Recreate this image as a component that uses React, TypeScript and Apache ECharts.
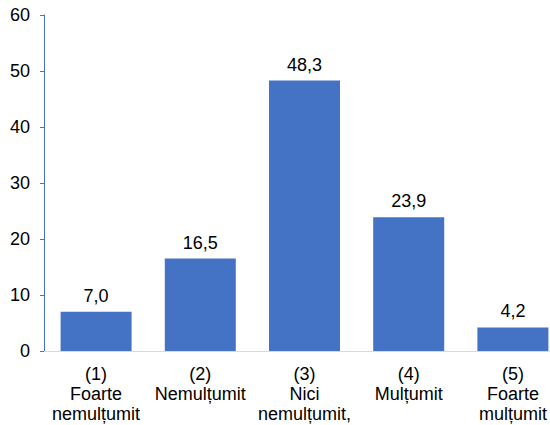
import React, { useEffect, useRef } from "react";
import * as echarts from "echarts";

const categories = [
  "(1)\nFoarte\nnemulțumit",
  "(2)\nNemulțumit",
  "(3)\nNici\nnemulțumit,",
  "(4)\nMulțumit",
  "(5)\nFoarte\nmulțumit",
];
const values = [7.0, 16.5, 48.3, 23.9, 4.2];

const FONT = "Liberation Sans, Arial, sans-serif";

export default function App() {
  const ref = useRef<HTMLDivElement>(null);
  useEffect(() => {
    document.body.style.margin = "0";
    const chart = echarts.init(ref.current!, null, { renderer: "svg" });
    chart.setOption({
      animation: false,
      backgroundColor: "#ffffff",
      textStyle: { fontFamily: FONT },
      grid: {
        left: 44,
        right: 0,
        top: 15,
        bottom: 74,
        containLabel: false,
        outerBoundsMode: "none",
      },
      xAxis: {
        type: "category",
        data: categories,
        axisLine: { show: true, lineStyle: { color: "#d9d9d9", width: 1 } },
        axisTick: { show: false },
        axisLabel: {
          color: "#000",
          fontSize: 18,
          lineHeight: 20,
          margin: 13,
          interval: 0,
          fontFamily: FONT,
        },
      },
      yAxis: {
        type: "value",
        min: 0,
        max: 60,
        interval: 10,
        splitLine: { show: false },
        axisLine: { show: true, lineStyle: { color: "#4472C4", width: 1 } },
        axisTick: { show: true, length: 4, lineStyle: { color: "#4472C4" } },
        axisLabel: {
          color: "#000",
          fontSize: 18,
          margin: 14,
          fontFamily: FONT,
        },
      },
      series: [
        {
          type: "bar",
          data: values,
          barWidth: 71,
          itemStyle: { color: "#4472C4" },
          label: {
            show: true,
            position: "top",
            distance: 7,
            color: "#000",
            fontSize: 18,
            fontFamily: FONT,
            formatter: (p: any) => p.value.toFixed(1).replace(".", ","),
          },
        },
      ],
    });
    return () => chart.dispose();
  }, []);
  return (
    <div style={{ width: 550, height: 425, overflow: "hidden", position: "relative" }}>
      <div ref={ref} style={{ width: 565, height: 425 }} />
    </div>
  );
}
